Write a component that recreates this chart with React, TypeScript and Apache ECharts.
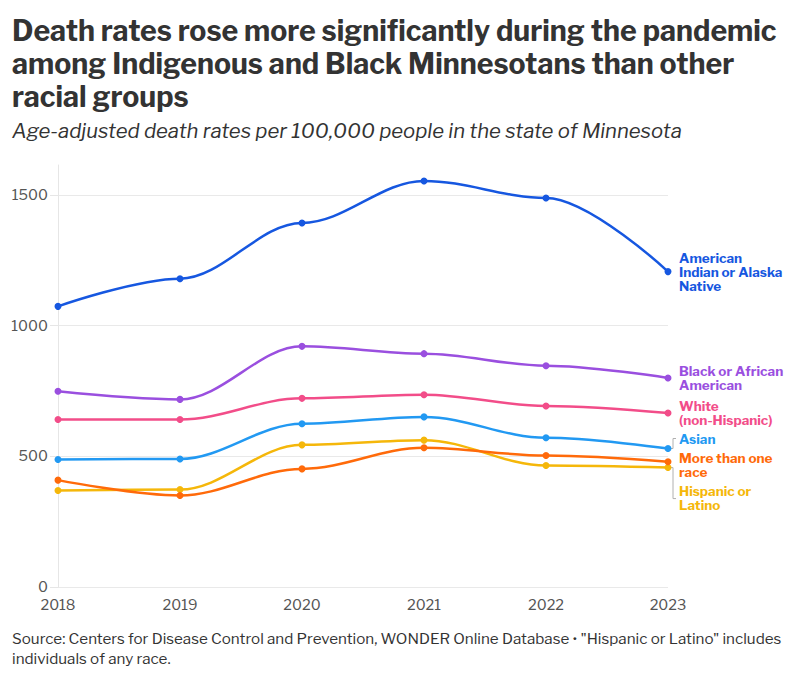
import React, { useEffect, useRef } from "react";
import * as echarts from "echarts";

// Age-adjusted death rates per 100,000, Minnesota
const years = ["2018", "2019", "2020", "2021", "2022", "2023"];
const aian = [1074, 1180, 1393, 1554, 1489, 1207];
const black = [749, 718, 921, 893, 847, 800];
const white = [641, 641, 722, 736, 693, 666];
const asian = [488, 490, 625, 651, 571, 530];
const multiRace = [409, 350, 452, 533, 503, 479];
const hispanic = [369, 373, 544, 562, 465, 457];

const seriesNames = [
  "American\nIndian or Alaska\nNative",
  "Black or African\nAmerican",
  "White\n(non-Hispanic)",
  "Asian",
  "More than one\nrace",
  "Hispanic or\nLatino",
];
const seriesData = [aian, black, white, asian, multiRace, hispanic];
const seriesColors = ["#1657e0", "#9a4fdf", "#f24d89", "#2299f2", "#ff6a0a", "#f5b70a"];
// vertical nudge of each end label so they don't collide
const labelNudge = [0, 0, 0, -10, 3, 30];

const FONT = "'Libre Franklin', 'Open Sans', 'Noto Sans', sans-serif";

export default function App() {
  const ref = useRef<HTMLDivElement>(null);

  useEffect(() => {
    if (!ref.current) return;
    const chart = echarts.init(ref.current, undefined, { renderer: "svg" });

    const option: any = {
      animation: false,
      backgroundColor: "#ffffff",
      textStyle: { fontFamily: FONT },
      title: {
        text: "Death rates rose more significantly during the pandemic\namong Indigenous and Black Minnesotans than other\nracial groups",
        subtext: "Age-adjusted death rates per 100,000 people in the state of Minnesota",
        left: 7,
        top: 9,
        itemGap: 7,
        textStyle: {
          fontFamily: FONT,
          fontSize: 28.5,
          fontWeight: 700,
          color: "#333333",
          lineHeight: 33,
        },
        subtextStyle: {
          fontFamily: FONT,
          fontSize: 20.3,
          fontStyle: "italic",
          color: "#333333",
        },
      },
      grid: { left: 58, right: 132, top: 165, bottom: 90 },
      xAxis: {
        type: "category",
        data: years,
        boundaryGap: false,
        axisLine: { show: false },
        axisTick: { show: false },
        axisLabel: { color: "#555555", fontSize: 14.5, margin: 10, fontFamily: FONT },
        splitLine: { show: false },
      },
      yAxis: {
        type: "value",
        min: 0,
        max: 1615,
        interval: 500,
        axisLine: { show: true, lineStyle: { color: "#e6e6e6", width: 1 } },
        axisTick: { show: true, length: 8, lineStyle: { color: "#e6e6e6" } },
        axisLabel: {
          color: "#555555",
          fontSize: 14.5,
          margin: 10,
          fontFamily: FONT,
          showMaxLabel: false,
          formatter: (v: number) => (v % 500 === 0 ? String(v) : ""),
        },
        splitLine: { show: true, showMaxLine: false, lineStyle: { color: "#e9e9e9", width: 1 } },
      },
      series: seriesData.map((d, i) => ({
        type: "line",
        name: seriesNames[i],
        data: d,
        smooth: 0.35,
        smoothMonotone: "x",
        symbol: "circle",
        symbolSize: 7,
        lineStyle: { width: 2.5, color: seriesColors[i] },
        itemStyle: { color: seriesColors[i] },
        z: 10 - i,
        endLabel: {
          show: true,
          formatter: () => seriesNames[i],
          color: seriesColors[i],
          fontFamily: FONT,
          fontWeight: 700,
          fontSize: 13.5,
          lineHeight: 14,
          distance: 11,
          offset: [0, labelNudge[i]],
          align: "left",
          verticalAlign: "middle",
        },
      })),
    };
    chart.setOption(option);

    // bracket connectors for labels that were nudged away from their point
    const graphics: any[] = [];
    [3, 5].forEach((i) => {
      const p = chart.convertToPixel({ seriesIndex: i }, [5, seriesData[i][5]]) as number[];
      if (!p) return;
      const x0 = p[0] + 3;
      const xb = p[0] + 5;
      const yLab = p[1] + labelNudge[i] + (i === 5 ? 1 : 0);
      graphics.push({
        type: "polyline",
        silent: true,
        shape: { points: [[x0, p[1]], [xb, p[1]], [xb, yLab], [xb + 3, yLab]] },
        style: { stroke: "#b0b0b0", lineWidth: 1, fill: null },
        z: 1,
      });
    });
    graphics.push({
      type: "text",
      left: 12,
      top: 628,
      style: {
        text: 'Source: Centers for Disease Control and Prevention, WONDER Online Database • "Hispanic or Latino" includes\nindividuals of any race.',
        fontFamily: FONT,
        fontSize: 15.2,
        lineHeight: 20,
        fill: "#333333",
      },
    });
    chart.setOption({ graphic: graphics });

    return () => chart.dispose();
  }, []);

  return <div ref={ref} style={{ width: 800, height: 677, position: "absolute", left: 0, top: 0 }} />;
}
